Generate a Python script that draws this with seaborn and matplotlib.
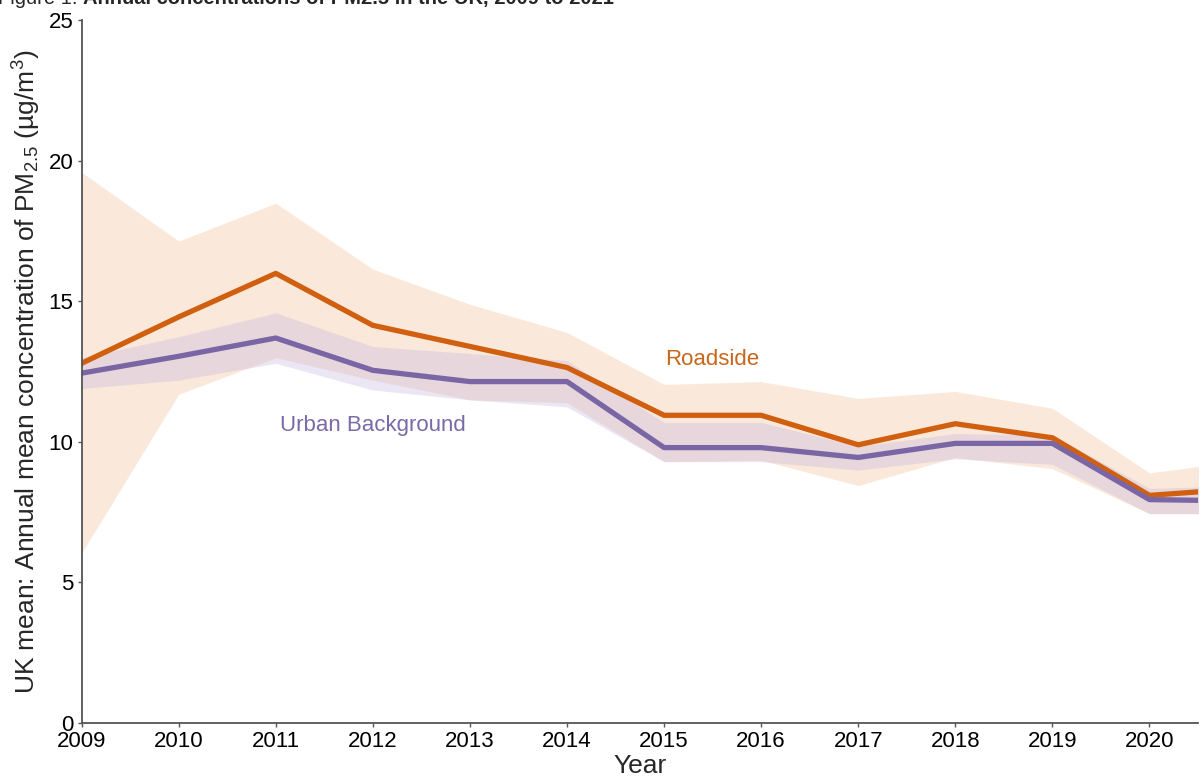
import pandas as pd
import matplotlib
matplotlib.use("Agg")
import matplotlib.pyplot as plt
import seaborn as sns

years = [2009, 2010, 2011, 2012, 2013, 2014, 2015, 2016, 2017, 2018, 2019, 2020, 2021]

roadside = [12.8, 14.45, 16.0, 14.15, 13.4, 12.65, 10.95, 10.95, 9.9, 10.65, 10.15, 8.1, 8.35]
roadside_low = [6.05, 11.7, 13.0, 12.2, 11.5, 11.4, 9.3, 9.35, 8.45, 9.45, 9.05, 7.45, 7.45]
roadside_high = [19.6, 17.15, 18.5, 16.15, 14.9, 13.9, 12.05, 12.15, 11.55, 11.8, 11.2, 8.9, 9.35]

urban = [12.45, 13.05, 13.7, 12.55, 12.15, 12.15, 9.8, 9.8, 9.45, 9.95, 9.95, 7.95, 7.9]
urban_low = [11.9, 12.2, 12.8, 11.85, 11.5, 11.25, 9.3, 9.3, 9.0, 9.4, 9.2, 7.45, 7.45]
urban_high = [13.0, 13.75, 14.6, 13.4, 13.15, 12.9, 10.7, 10.7, 9.85, 10.3, 10.25, 8.35, 8.45]

df = pd.DataFrame({
    "Year": years * 2,
    "value": roadside + urban,
    "site": ["Roadside"] * len(years) + ["Urban Background"] * len(years),
})

sns.set_theme(style="ticks")
plt.rcParams["font.family"] = ["Liberation Sans", "DejaVu Sans"]
plt.rcParams["mathtext.default"] = "regular"

orange = "#D0600F"
purple = "#7A66A4"

fig, ax = plt.subplots(figsize=(12.01, 7.76), dpi=100)
fig.subplots_adjust(left=0.068, right=0.9975, bottom=0.0683, top=0.9736)

ax.fill_between(years, roadside_low, roadside_high, color="#F6D4B8", alpha=0.5, lw=0)
ax.fill_between(years, urban_low, urban_high, color="#C4B8E0", alpha=0.35, lw=0)

sns.lineplot(data=df, x="Year", y="value", hue="site",
             palette={"Roadside": orange, "Urban Background": purple},
             linewidth=3.8, legend=False, ax=ax)

ax.text(2015.5, 12.95, "Roadside", color="#C8661C", fontsize=16, ha="center", va="center")
ax.text(2012.0, 10.6, "Urban Background", color="#7A6AA8", fontsize=16, ha="center", va="center")

ax.set_xlim(2009, 2020.5)
ax.set_ylim(0, 25)
ax.set_xticks(years[:-1])
ax.set_yticks([0, 5, 10, 15, 20, 25])
ax.tick_params(labelsize=16, length=3, width=1, colors="#555555", labelcolor="black", pad=3)
ax.set_xlabel("Year", fontsize=19, labelpad=1)
ax.set_ylabel("UK mean: Annual mean concentration of PM$_{2.5}$ (µg/m$^3$)", fontsize=19, labelpad=4)
sns.despine(ax=ax)
for side in ["left", "bottom"]:
    ax.spines[side].set_color("#555555")
    ax.spines[side].set_linewidth(1.3)

# title is cut off at the top edge in the original
t1 = fig.text(-0.002, 1 - 8 / 776, "Figure 1: ", fontsize=14.5, va="bottom", ha="left")
ax.annotate("Annual concentrations of PM2.5 in the UK, 2009 to 2021", xy=(1, 0), xycoords=t1,
            fontsize=14.5, fontweight="bold", va="bottom", ha="left", annotation_clip=False)

fig.savefig("out.png", dpi=100)
